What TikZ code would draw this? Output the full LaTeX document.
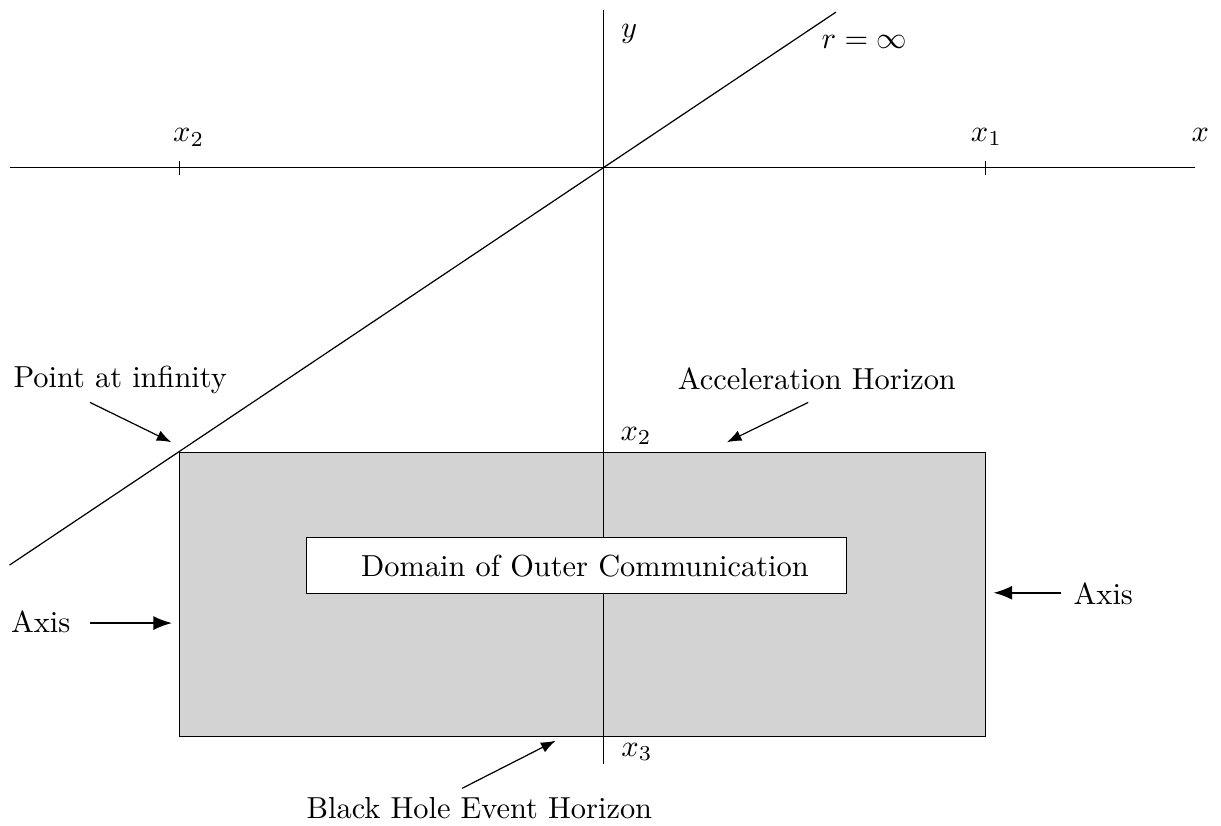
\documentclass[tikz,border=0pt]{standalone}
\usepackage{tikz}
\usetikzlibrary{arrows.meta}
\usepackage{amsmath, amsfonts}
\definecolor{regiongray}{RGB}{211,211,211}

\begin{document}
\begin{tikzpicture}[lbl/.style = {inner sep=1pt}, ptr/.style = {-Latex}, axisptr/.style = {-Latex, line width=0.7pt}]
            \useasboundingbox (-6.97,-7.60) rectangle (7.14,1.94);

            % shaded region and axes
            \filldraw[fill=regiongray, draw=black] (-4.90,-3.29) coordinate (pinf) rectangle (4.42,-6.57) coordinate (rc);
            \draw (-6.86,0) -- (6.84,0);
            \draw (0,1.83) -- (0,-6.89);
            \draw (-6.86,-4.59) -- (2.69,1.80);
            \draw (-4.90,-0.08) -- (-4.90,0.08);
            \draw (4.42,-0.08) -- (4.42,0.08);
            \node[draw, fill=white, minimum width=6.24cm, minimum height=0.65cm] (box) at (-0.31,-4.595) {};
            \node (doc) at (-0.21,-4.60) {Domain of Outer Communication};

            % labels
            \node[lbl] (xtwo) at (-4.79,0.35) {$x_2$};
            \node[lbl] (xone) at (4.43,0.36) {$x_1$};
            \node[lbl] (xlab) at (6.90,0.38) {$x$};
            \node[lbl] (ylab) at (0.30,1.55) {$y$};
            \node[lbl] (rinf) at (3.02,1.45) {$r = \infty$};
            \node[lbl] (xtwob) at (0.38,-3.10) {$x_2$};
            \node[lbl] (xthree) at (0.39,-6.75) {$x_3$};

            \node (pai) at (-5.58,-2.45) {Point at infinity};
            \node (acc) at (2.47,-2.44) {Acceleration Horizon};
            \node (bhe) at (-1.43,-7.40) {Black Hole Event Horizon};
            \node (axl) at (-6.50,-5.25) {Axis};
            \node (axr) at (5.78,-4.92) {Axis};

            % pointers
            \coordinate (paiA) at (-5.93,-2.71);
            \coordinate (paiB) at (-4.99,-3.17);
            \coordinate (accA) at (2.37,-2.71);
            \coordinate (accB) at (1.43,-3.17);
            \coordinate (bheA) at (-1.63,-7.17);
            \coordinate (bheB) at (-0.55,-6.62);
            \coordinate (axlA) at (-5.93,-5.26);
            \coordinate (axlB) at (-4.98,-5.26);
            \coordinate (axrA) at (5.29,-4.91);
            \coordinate (axrB) at (4.51,-4.91);

            \draw[ptr] (paiA) -- (paiB);
            \draw[ptr] (accA) -- (accB);
            \draw[ptr] (bheA) -- (bheB);
            \draw[axisptr] (axlA) -- (axlB);
            \draw[axisptr] (axrA) -- (axrB);
        \end{tikzpicture}
\end{document}
